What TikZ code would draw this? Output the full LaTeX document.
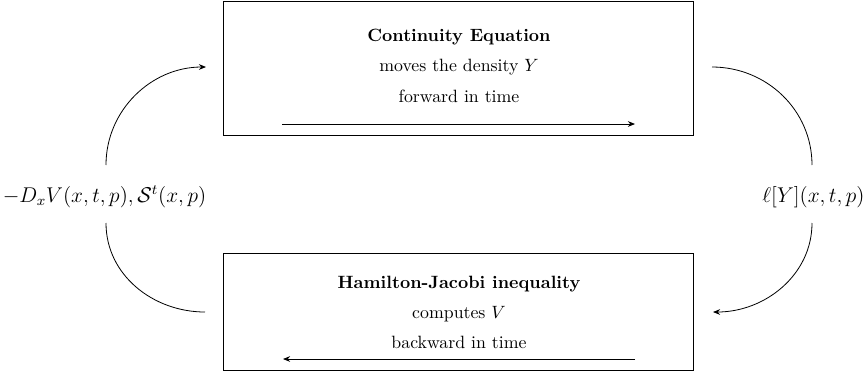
\documentclass[tikz,border=0pt]{standalone}
\usetikzlibrary{arrows.meta}
\begin{document}
\begin{tikzpicture}[x=0.5618pt,y=-0.5618pt,
  box/.style={draw,line width=0.45pt,minimum width=264pt,inner sep=0pt},
  line/.style={line width=0.45pt},
  arr/.style={line width=0.45pt,-{Stealth[length=4pt,width=3.2pt]}},
  txt/.style={anchor=base,inner sep=0pt},
  lab/.style={inner sep=0pt,font=\fontsize{11.8}{14}\selectfont}]
\useasboundingbox (0,0) rectangle (867,374);
% boxes
\node[box,minimum height=75.3pt] (top) at (458,68) {};
\node[box,minimum height=65.7pt] (bot) at (458,311.5) {};
% texts
\node[txt] (t1) at (459,41) {\textbf{Continuity Equation}};
\node[txt] (t2) at (459,71) {moves the density $Y$};
\node[txt] (t3) at (459,102) {forward in time};
\node[txt] (b1) at (459,288) {\textbf{Hamilton-Jacobi inequality}};
\node[txt] (b2) at (459,318) {computes $V$};
\node[txt] (b3) at (459,348) {backward in time};
% labels
\node[lab] (L) at (104.5,197) {$-D_xV(x,t,p),\mathcal{S}^t(x,p)$};
\node[lab] (R) at (813.5,197) {$\ell[Y](x,t,p)$};
% inner arrows
\coordinate (ta) at (282,124);
\coordinate (tb) at (635,124);
\coordinate (ba) at (635,359);
\coordinate (bb) at (283,359);
\draw[arr] (ta) -- (tb);
\draw[arr] (ba) -- (bb);
% curved connectors
\coordinate (Ltop) at (106,165);
\coordinate (Lbot) at (106,223);
\coordinate (Rtop) at (812,165);
\coordinate (Rbot) at (812,223);
\coordinate (inT) at (206,67);
\coordinate (inB) at (205,312);
\coordinate (outT) at (712,67);
\coordinate (outB) at (713,312);
\draw[arr] (Ltop) to[out=90,in=180] (inT);
\draw[line] (Lbot) to[out=-90,in=180] (inB);
\draw[line] (outT) to[out=0,in=90] (Rtop);
\draw[arr] (Rbot) to[out=-90,in=0] (outB);
\end{tikzpicture}
\end{document}
